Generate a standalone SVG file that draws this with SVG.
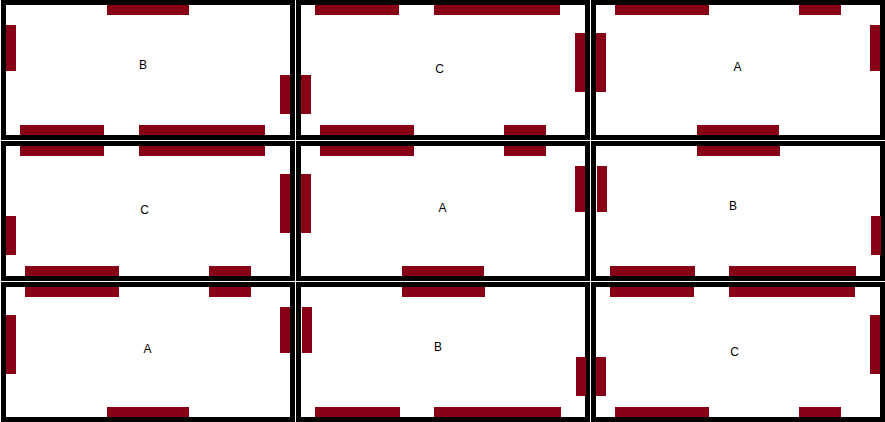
<svg xmlns="http://www.w3.org/2000/svg" width="885" height="422" viewBox="0 0 885 422">
  <style>
    .frame { fill: #ffffff; stroke: #000000; stroke-width: 5; }
    .wall { fill: #880015; }
    .lbl { font-family: "Liberation Sans", Arial, sans-serif; font-size: 12px; fill: #000000; text-anchor: middle; }
  </style>
  <rect x="0" y="0" width="885" height="422" fill="#ffffff"/>

  <!-- Row 1 -->
  <g id="cell-r1c1">
    <rect class="frame" x="3.5" y="2.5" width="289" height="135"/>
    <g transform="translate(6,5)">
      <rect class="wall" x="101" y="0" width="82" height="10"/>
      <rect class="wall" x="0" y="20" width="10" height="46"/>
      <rect class="wall" x="274" y="70" width="10" height="39"/>
      <rect class="wall" x="14" y="120" width="84" height="10"/>
      <rect class="wall" x="133" y="120" width="126" height="10"/>
      <text class="lbl" x="137" y="64">B</text>
    </g>
  </g>
  <g id="cell-r1c2">
    <rect class="frame" x="298.5" y="2.5" width="289" height="135"/>
    <g transform="translate(301,5)">
      <rect class="wall" x="14" y="0" width="84" height="10"/>
      <rect class="wall" x="133" y="0" width="126" height="10"/>
      <rect class="wall" x="274" y="28" width="10" height="59"/>
      <rect class="wall" x="0" y="70" width="10" height="39"/>
      <rect class="wall" x="19" y="120" width="94" height="10"/>
      <rect class="wall" x="203" y="120" width="42" height="10"/>
      <text class="lbl" x="138.5" y="68">C</text>
    </g>
  </g>
  <g id="cell-r1c3">
    <rect class="frame" x="593.5" y="2.5" width="289" height="135"/>
    <g transform="translate(596,5)">
      <rect class="wall" x="19" y="0" width="94" height="10"/>
      <rect class="wall" x="203" y="0" width="42" height="10"/>
      <rect class="wall" x="0" y="28" width="10" height="59"/>
      <rect class="wall" x="274" y="20" width="10" height="46"/>
      <rect class="wall" x="101" y="120" width="82" height="10"/>
      <text class="lbl" x="141.5" y="66">A</text>
    </g>
  </g>

  <!-- Row 2 -->
  <g id="cell-r2c1">
    <rect class="frame" x="3.5" y="143.5" width="289" height="135"/>
    <g transform="translate(6,146)">
      <rect class="wall" x="14" y="0" width="84" height="10"/>
      <rect class="wall" x="133" y="0" width="126" height="10"/>
      <rect class="wall" x="274" y="28" width="10" height="59"/>
      <rect class="wall" x="0" y="70" width="10" height="39"/>
      <rect class="wall" x="19" y="120" width="94" height="10"/>
      <rect class="wall" x="203" y="120" width="42" height="10"/>
      <text class="lbl" x="138.5" y="68">C</text>
    </g>
  </g>
  <g id="cell-r2c2">
    <rect class="frame" x="298.5" y="143.5" width="289" height="135"/>
    <g transform="translate(301,146)">
      <rect class="wall" x="19" y="0" width="94" height="10"/>
      <rect class="wall" x="203" y="0" width="42" height="10"/>
      <rect class="wall" x="0" y="28" width="10" height="59"/>
      <rect class="wall" x="274" y="20" width="10" height="46"/>
      <rect class="wall" x="101" y="120" width="82" height="10"/>
      <text class="lbl" x="141.5" y="66">A</text>
    </g>
  </g>
  <g id="cell-r2c3">
    <rect class="frame" x="593.5" y="143.5" width="289" height="135"/>
    <g transform="translate(597,146)">
      <rect class="wall" x="100" y="0" width="83" height="10"/>
      <rect class="wall" x="0" y="20" width="10" height="46"/>
      <rect class="wall" x="274" y="70" width="10" height="39"/>
      <rect class="wall" x="13" y="120" width="85" height="10"/>
      <rect class="wall" x="132" y="120" width="127" height="10"/>
      <text class="lbl" x="136" y="64">B</text>
    </g>
  </g>

  <!-- Row 3 -->
  <g id="cell-r3c1">
    <rect class="frame" x="3.5" y="284.5" width="289" height="135"/>
    <g transform="translate(6,287)">
      <rect class="wall" x="19" y="0" width="94" height="10"/>
      <rect class="wall" x="203" y="0" width="42" height="10"/>
      <rect class="wall" x="0" y="28" width="10" height="59"/>
      <rect class="wall" x="274" y="20" width="10" height="46"/>
      <rect class="wall" x="101" y="120" width="82" height="10"/>
      <text class="lbl" x="141.5" y="66">A</text>
    </g>
  </g>
  <g id="cell-r3c2">
    <rect class="frame" x="298.5" y="284.5" width="289" height="135"/>
    <g transform="translate(302,287)">
      <rect class="wall" x="100" y="0" width="83" height="10"/>
      <rect class="wall" x="0" y="20" width="10" height="46"/>
      <rect class="wall" x="274" y="70" width="10" height="39"/>
      <rect class="wall" x="13" y="120" width="85" height="10"/>
      <rect class="wall" x="132" y="120" width="127" height="10"/>
      <text class="lbl" x="136" y="64">B</text>
    </g>
  </g>
  <g id="cell-r3c3">
    <rect class="frame" x="593.5" y="284.5" width="289" height="135"/>
    <g transform="translate(596,287)">
      <rect class="wall" x="14" y="0" width="84" height="10"/>
      <rect class="wall" x="133" y="0" width="126" height="10"/>
      <rect class="wall" x="274" y="28" width="10" height="59"/>
      <rect class="wall" x="0" y="70" width="10" height="39"/>
      <rect class="wall" x="19" y="120" width="94" height="10"/>
      <rect class="wall" x="203" y="120" width="42" height="10"/>
      <text class="lbl" x="138.5" y="69">C</text>
    </g>
  </g>

  <g id="connectors"></g>
</svg>
